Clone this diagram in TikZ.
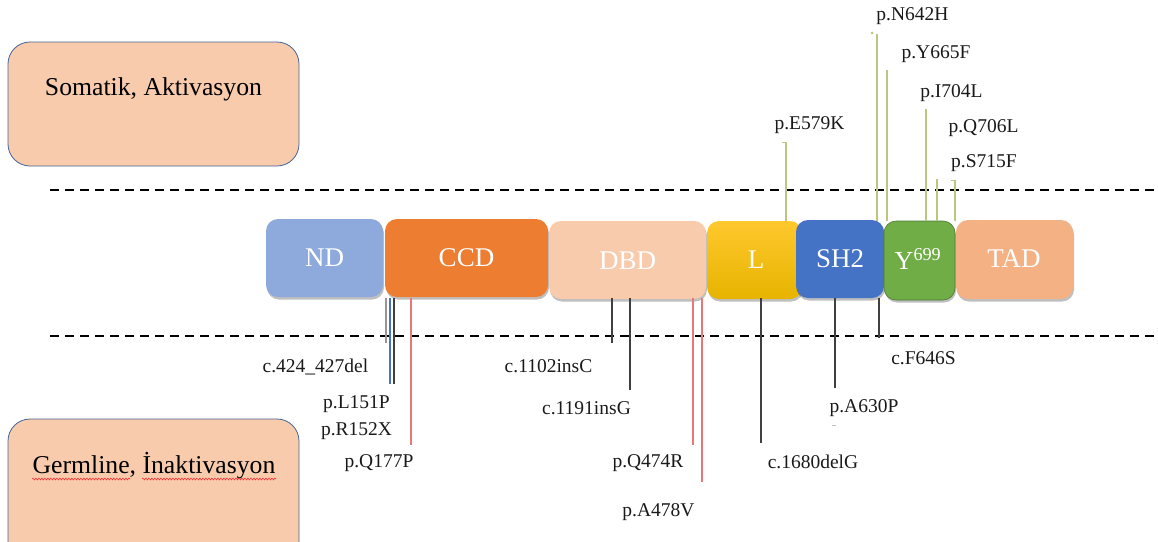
\documentclass[tikz,border=0pt]{standalone}
\usepackage{fontspec}
\setmainfont{Liberation Serif}
\usetikzlibrary{shadows,decorations.pathmorphing}

\definecolor{ndblue}{RGB}{142,169,219}
\definecolor{ccdorange}{RGB}{237,125,49}
\definecolor{dbdpeach}{RGB}{248,203,173}
\definecolor{ltop}{RGB}{255,200,45}
\definecolor{lbottom}{RGB}{230,180,0}
\definecolor{shblue}{RGB}{68,114,196}
\definecolor{ygreen}{RGB}{112,173,71}
\definecolor{tadpeach}{RGB}{244,177,131}
\definecolor{sidefill}{RGB}{248,203,173}
\definecolor{sideedge}{RGB}{70,100,150}
\definecolor{somline}{RGB}{188,198,128}
\definecolor{redline}{RGB}{232,120,120}
\definecolor{darkline}{RGB}{64,64,64}
\definecolor{grayline}{RGB}{150,150,150}

\tikzset{
  domainbox/.style={rounded corners=12pt, draw=none,
    drop shadow={shadow xshift=1pt, shadow yshift=-2.5pt, opacity=0.25, fill=black}},
  domaintext/.style={text=white, font=\fontsize{27}{30}\selectfont},
  sidebox/.style={rounded corners=22pt, fill=sidefill, draw=sideedge, line width=0.8pt},
  sidetext/.style={font=\fontsize{25.7}{28}\selectfont, text=black},
  mutlabel/.style={font=\fontsize{19.5}{22}\selectfont, text=black!90},
  somatic/.style={draw=somline, line width=2.5pt},
  redmut/.style={draw=redline, line width=2.2pt},
  darkmut/.style={draw=darkline, line width=2.2pt},
  graymut/.style={draw=grayline, line width=2.2pt},
  bluemut/.style={draw=shblue, line width=2.2pt},
  divider/.style={draw=black, line width=2pt, dash pattern=on 9pt off 6pt},
  squiggle/.style={draw=red!80, line width=0.6pt,
    decorate, decoration={snake, amplitude=0.9pt, segment length=3pt}}
}

\begin{document}
\begin{tikzpicture}[x=1pt, y=-1pt]
\useasboundingbox (0,0) rectangle (1158,541);
\clip (0,0) rectangle (1158,541);

% side labels
\draw[sidebox] (8,42) rectangle (299,166);
\node[sidetext] (somatic) at (153.5,89) {Somatik, Aktivasyon};
\draw[sidebox] (8,419) rectangle (299,570);
\node[sidetext] (germline) at (154,466) {Germline, İnaktivasyon};
\draw[squiggle] (32,479) -- (130,479);
\draw[squiggle] (142,479) -- (276,479);

% dividing lines
\draw[divider] (50,190) -- (1158,190);
\draw[divider] (50,336) -- (1158,336);

% protein domains
\path[domainbox, fill=ndblue]    (266,219) rectangle (383,297);
\node[domaintext] (ND) at (324.5,258) {ND};
\path[domainbox, fill=ccdorange] (385,219) rectangle (548,297);
\node[domaintext] (CCD) at (466.5,258) {CCD};
\path[domainbox, fill=dbdpeach]  (549,221) rectangle (706,299);
\node[domaintext] (DBD) at (627.5,261) {DBD};
\path[domainbox, top color=ltop, bottom color=lbottom] (707,221) rectangle (802,299);
\node[domaintext] (L) at (756,260) {L};
\path[domainbox, fill=shblue]    (796,220) rectangle (884,298);
\node[domaintext] (SH2) at (840,259) {SH2};
\path[domainbox, fill=ygreen, draw=ygreen!70!black, line width=0.6pt] (884,221) rectangle (955,300);
\node[domaintext, font=\fontsize{26}{30}\selectfont] (Y) at (918,259) {Y\textsuperscript{699}};
\path[domainbox, fill=tadpeach]  (956,220) rectangle (1073,299);
\node[domaintext] (TAD) at (1014,259) {TAD};

% shared edges of the domain row
\coordinate (rowtop) at (0,221);
\coordinate (rowbot) at (0,298);

% somatic, activating mutations (above)
\coordinate (e579k) at (786,142);
\coordinate (n642h) at (877,34);
\coordinate (y665f) at (887,70);
\coordinate (i704l) at (926,109);
\coordinate (q706l) at (937,179);
\coordinate (s715f) at (955,180);
\draw[somatic] (e579k) -- (e579k |- rowtop);
\draw[somatic] (n642h) -- (n642h |- rowtop);
\draw[somatic] (y665f) -- (y665f |- rowtop);
\draw[somatic] (i704l) -- (i704l |- rowtop);
\draw[somatic] (q706l) -- (q706l |- rowtop);
\draw[somatic] (s715f) -- (s715f |- rowtop);
\draw[draw=somline, line width=1pt] (782,142) -- (e579k);
\draw[draw=somline, line width=1pt] (951,180) -- (s715f);
\fill[somline] (872,33) circle (1.5pt);

\node[mutlabel] (le579k) at (809.5,125) {p.E579K};
\node[mutlabel] (ln642h) at (912.5,16) {p.N642H};
\node[mutlabel] (ly665f) at (936,54) {p.Y665F};
\node[mutlabel] (li704l) at (951.5,93) {p.I704L};
\node[mutlabel] (lq706l) at (983.5,128) {p.Q706L};
\node[mutlabel] (ls715f) at (984,163) {p.S715F};

% germline, inactivating mutations (below)
\coordinate (m424) at (386,343);
\coordinate (l151p) at (390,384);
\coordinate (r152x) at (394,384);
\coordinate (q177p) at (411,445);
\coordinate (i1102) at (612,343);
\coordinate (i1191) at (630,390);
\coordinate (q474r) at (693,445);
\coordinate (a478v) at (702,482);
\coordinate (d1680) at (761,443);
\coordinate (a630p) at (835,388);
\coordinate (f646s) at (879,338);
\draw[graymut] (m424 |- rowbot) -- (m424);
\draw[bluemut] (l151p |- rowbot) -- (l151p);
\draw[darkmut] (r152x |- rowbot) -- (r152x);
\draw[redmut]  (q177p |- rowbot) -- (q177p);
\draw[darkmut] (i1102 |- rowbot) -- (i1102);
\draw[darkmut] (i1191 |- rowbot) -- (i1191);
\draw[redmut]  (q474r |- rowbot) -- (q474r);
\draw[redmut]  (a478v |- rowbot) -- (a478v);
\draw[darkmut] (d1680 |- rowbot) -- (d1680);
\draw[darkmut] (a630p |- rowbot) -- (a630p);
\draw[darkmut] (f646s |- rowbot) -- (f646s);

\node[mutlabel] (l424) at (315.5,367) {c.424\_427del};
\node[mutlabel] (ll151p) at (356.5,404) {p.L151P};
\node[mutlabel] (lr152x) at (356.5,431) {p.R152X};
\node[mutlabel] (lq177p) at (379,463) {p.Q177P};
\node[mutlabel] (l1102) at (548.5,366) {c.1102insC};
\node[mutlabel] (l1191) at (586.5,408) {c.1191insG};
\node[mutlabel] (lq474r) at (648,463) {p.Q474R};
\node[mutlabel] (la478v) at (658.5,512) {p.A478V};
\node[mutlabel] (lf646s) at (923.5,358) {c.F646S};
\node[mutlabel] (la630p) at (864,408) {p.A630P};
\node[mutlabel] (l1680) at (813,462) {c.1680delG};
\draw[draw=grayline!60, line width=1pt] (832,425) -- (836,425);
\end{tikzpicture}
\end{document}
